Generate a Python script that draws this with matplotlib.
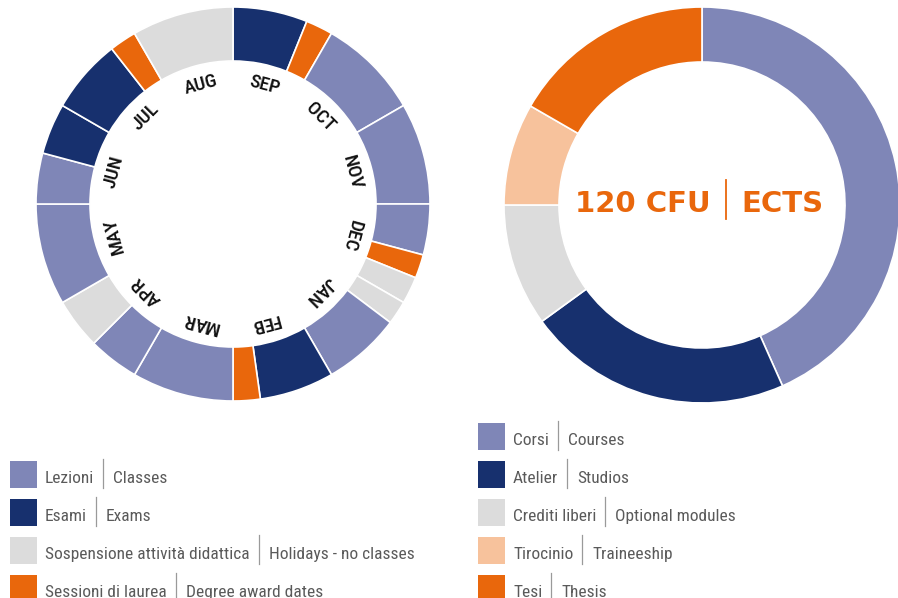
import numpy as np
import matplotlib.pyplot as plt
from matplotlib import font_manager
from matplotlib.patches import Rectangle

W, H = 898, 598

# colori
colori = {'lez': '#7f86b7', 'esa': '#17306e', 'sos': '#dcdcdc',
          'ses': '#e9670c', 'tir': '#f7c29c'}

# calendario accademico, da settembre, in giorni (30 per mese)
months = ['SEP', 'OCT', 'NOV', 'DEC', 'JAN', 'FEB',
          'MAR', 'APR', 'MAY', 'JUN', 'JUL', 'AUG']
cal_kind = ['esa', 'ses', 'lez', 'lez', 'lez', 'ses', 'sos', 'sos', 'lez',
            'esa', 'ses', 'lez', 'lez', 'sos', 'lez', 'lez', 'esa', 'esa',
            'ses', 'sos']
cal_days = [22, 8, 30, 30, 15, 7, 8, 7, 23,
            22, 8, 30, 15, 15, 30, 15, 15, 22,
            8, 30]

# crediti
cfu_kind = ['lez', 'esa', 'sos', 'tir', 'ses']
cfu = [52, 26, 12, 10, 20]

leg_left = [('lez', 'Lezioni', 'Classes'),
            ('esa', 'Esami', 'Exams'),
            ('sos', 'Sospensione attività didattica', 'Holidays - no classes'),
            ('ses', 'Sessioni di laurea', 'Degree award dates')]
leg_right = [('lez', 'Corsi', 'Courses'),
             ('esa', 'Atelier', 'Studios'),
             ('sos', 'Crediti liberi', 'Optional modules'),
             ('tir', 'Tirocinio', 'Traineeship'),
             ('ses', 'Tesi', 'Thesis')]

# font stretto se c'e', altrimenti Roboto piu' piccolo
nomi = {f.name for f in font_manager.fontManager.ttflist}
font_leg, size_leg, size_mesi = 'Roboto', 11, 12
for cand in ['Roboto Condensed', 'Liberation Sans Narrow', 'Open Sans Condensed']:
    if cand in nomi:
        font_leg, size_leg, size_mesi = cand, 12.5, 14
        break
narrow = [font_leg, 'DejaVu Sans']

fig = plt.figure(figsize=(W / 100, H / 100), dpi=100)
ax = fig.add_axes([0, 0, 1, 1])

wp = dict(edgecolor='white', linewidth=1.2)
ax.pie(cal_days, colors=[colori[k] for k in cal_kind], radius=197,
       center=(233, H - 204), startangle=90, counterclock=False,
       wedgeprops=dict(width=54, **wp))
ax.pie(cfu, colors=[colori[k] for k in cfu_kind], radius=198,
       center=(702, H - 205), startangle=90, counterclock=False,
       wedgeprops=dict(width=55, **wp))

ax.set_xlim(0, W)
ax.set_ylim(0, H)
ax.set_aspect('equal')
ax.axis('off')

# mesi
cx, cy = 233, H - 204
for i, m in enumerate(months):
    a = 15 + 30 * i
    t = np.radians(a)
    ax.text(cx + 123 * np.sin(t), cy + 123 * np.cos(t), m, rotation=-a,
            rotation_mode='anchor', ha='center', va='center',
            fontsize=size_mesi, family=narrow, fontweight='medium',
            color='#111111')

# testo centrale
orange = colori['ses']
ax.text(711, H - 211.5, '120 CFU', ha='right', va='baseline',
        fontsize=21, fontweight='bold', family='DejaVu Sans', color=orange)
ax.text(741, H - 211.5, 'ECTS', ha='left', va='baseline',
        fontsize=21, fontweight='bold', family='DejaVu Sans', color=orange)
ax.plot([726, 726], [H - 180, H - 219], color=orange, lw=1.3)

# legende
renderer = fig.canvas.get_renderer()


def legenda(x0, y0, righe):
    for j, (k, it, en) in enumerate(righe):
        top = y0 + 38 * j
        ax.add_patch(Rectangle((x0, H - top - 27), 27, 27,
                               facecolor=colori[k], edgecolor='none'))
        t = ax.text(x0 + 35, H - top - 22, it, va='baseline', ha='left',
                    fontsize=size_leg, family=narrow, color='#5a5a5a')
        xe = t.get_window_extent(renderer).x1
        ax.plot([xe + 9, xe + 9], [H - top + 2, H - top - 27],
                color='#9a9a9a', lw=0.9)
        ax.text(xe + 19, H - top - 22, en, va='baseline', ha='left',
                fontsize=size_leg, family=narrow, color='#5a5a5a')


legenda(10, 461, leg_left)
legenda(478, 423, leg_right)

fig.savefig('out.png', dpi=100)
